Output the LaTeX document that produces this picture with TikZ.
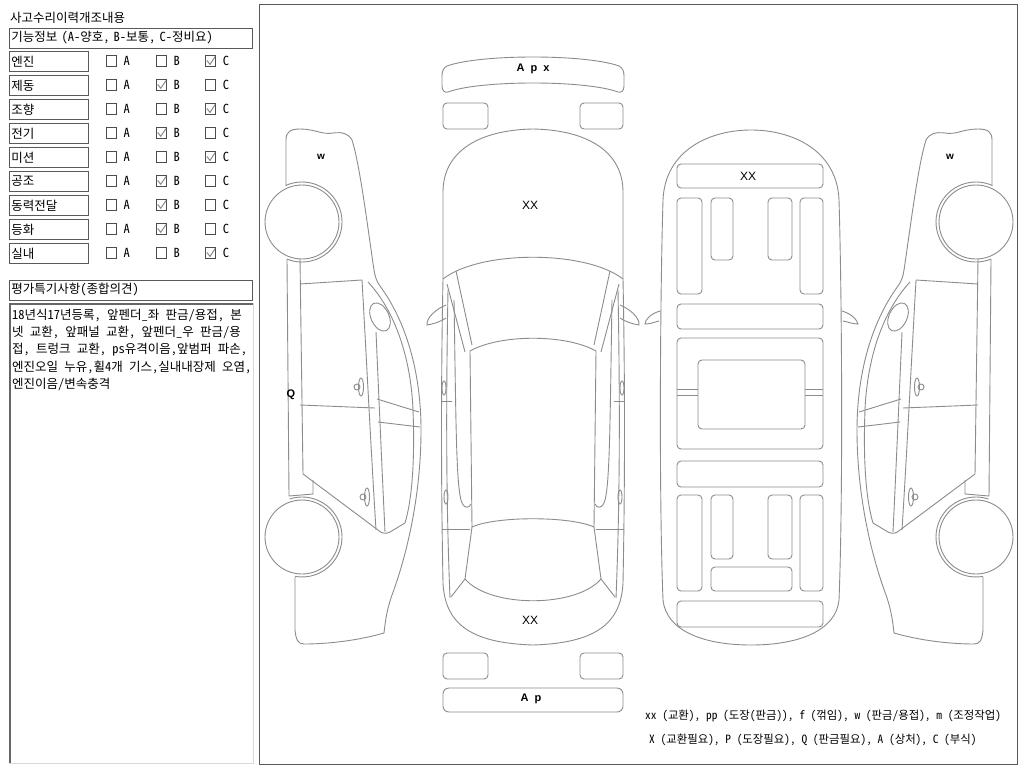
\documentclass[tikz,border=0pt]{standalone}
\usepackage{fontspec}
\setmainfont{Noto Sans CJK KR}[RawFeature=+hwid]
\newfontfamily\lblfont{Liberation Sans}
\usepackage{tikz}

% side view of the car (left side), mirrored for the right side
\newcommand{\sideview}{%
  \draw[car] (286,186) -- (286,140) .. controls (286,132) and (290,129) .. (300,129) .. controls (315,129) and (322,135) .. (333,133) .. controls (342,132) and (348,133) .. (352,140) .. controls (360,165) and (368,230) .. (374,270) .. controls (375,277) and (377,282) .. (380,286) .. controls (405,320) and (421,370) .. (421,430) .. controls (421,500) and (405,560) .. (392,595) .. controls (386,612) and (385,625) .. (384,633) .. controls (360,640) and (330,644) .. (304,644) .. controls (298,644) and (296,640) .. (295,630) -- (295,577);
  \draw[car] (302,222) circle[radius=37pt];
  \draw[car] (302,222) ++(114:40pt) arc[start angle=114, end angle=-112, radius=40pt];
  \draw[car] (302,537) circle[radius=37pt];
  \draw[car] (302,537) ++(108:40pt) arc[start angle=108, end angle=-100, radius=40pt];
  \draw[car] (287,259) -- (289,496) -- (313,494) -- (313,480);
  \draw[car] (300,259) -- (303,474) -- (378,530) .. controls (382,534) and (386,534) .. (390,532) -- (405,523);
  \draw[car] (300,284) -- (362,280);
  \draw[car] (300,405) -- (375,408);
  \draw[car] (362,280) .. controls (366,350) and (371,450) .. (376,530);
  \draw[car] (376,332) .. controls (379,400) and (382,470) .. (385,532);
  \draw[car] (368,282) .. controls (396,312) and (411,360) .. (413,410) .. controls (415,460) and (412,500) .. (405,523);
  \draw[car] (377,399) -- (419,412);
  \draw[car] (378,422) -- (420,427);
  \draw[car, rotate around={25:(380,317)}] (380,317) ellipse[x radius=9pt, y radius=15pt];
  \draw[car] (361,387) ellipse[x radius=2.5pt, y radius=9pt] (357,387) circle[radius=3pt];
  \draw[car] (367,497) ellipse[x radius=2.5pt, y radius=9pt] (363,497) circle[radius=3pt];
}

% one side of the top view, mirrored for the other side
\newcommand{\topside}{%
  \draw[car] (456,271) -- (472,345);
  \draw[car] (447,284) -- (465,352);
  \draw[car] (465,579) -- (451,597);
  \draw[car] (448,290) .. controls (446,400) and (446,500) .. (450,598);
  \draw[car] (454,300) .. controls (456,420) and (456,490) .. (462,503) .. controls (465,509) and (469,508) .. (471,504);
  \draw[car] (442,401) -- (452,401);
  \draw[car] (442,529) -- (470,529);
  \draw[car] (444,388) ellipse[x radius=2pt, y radius=7pt];
  \draw[car] (446,497) ellipse[x radius=2pt, y radius=7pt];
  \draw[car] (446,305) .. controls (436,309) and (426,318) .. (427,325) .. controls (434,324) and (442,321) .. (446,318);
}

\begin{document}
\begin{tikzpicture}[x=1pt, y=-1pt, font=\fontsize{12.5}{14}\selectfont, label distance=6.5pt,
  car/.style={draw=black!45, line width=0.9pt},
  part/.style={car, rounded corners=4pt},
  frame/.style={draw=black!65, line width=0.8pt},
  rowbox/.style={frame, anchor=west, minimum width=79pt, minimum height=20pt, text width=75pt, inner xsep=2pt, inner ysep=0pt, align=left},
  widebox/.style={frame, anchor=west, minimum width=243pt, minimum height=20pt, text width=239pt, inner xsep=2pt, inner ysep=0pt, align=left},
  chk/.style={draw=black!70, line width=0.7pt, minimum width=10.5pt, minimum height=11pt, inner sep=0pt},
  lbl/.style={inner sep=0pt},
  tick/.style={draw=black!50, line width=0.9pt},
  dmg/.style={font=\lblfont\bfseries\fontsize{11}{12}\selectfont, inner sep=0pt},
  legend/.style={anchor=west, inner sep=0pt, font=\fontsize{11.4}{13}\selectfont}]
  \useasboundingbox (0,0) rectangle (1024,768);
  \fill[white] (0,0) rectangle (1024,768);

  % left panel
  \node[anchor=west, inner sep=0pt] (title) at (10,18) {사고수리이력개조내용};
  \node[widebox] (func) at (9,38) {기능정보 (A-양호, B-보통, C-정비요)};

  \node[rowbox] (r1) at (9,61.5) {엔진};
  \node[chk, label={[lbl]right:A}] (r1a) at (111.3,60.5) {};
  \node[chk, label={[lbl]right:B}] (r1b) at (161.3,60.5) {};
  \node[chk, label={[lbl]right:C}] (r1c) at (210.5,60.5) {};
  \draw[tick] ([xshift=2pt]r1c.west) -- ([xshift=-0.5pt,yshift=2pt]r1c.south) -- ([xshift=-1pt,yshift=-2pt]r1c.north east);

  \node[rowbox] (r2) at (9,85.5) {제동};
  \node[chk, label={[lbl]right:A}] (r2a) at (111.3,84.5) {};
  \node[chk, label={[lbl]right:B}] (r2b) at (161.3,84.5) {};
  \node[chk, label={[lbl]right:C}] (r2c) at (210.5,84.5) {};
  \draw[tick] ([xshift=2pt]r2b.west) -- ([xshift=-0.5pt,yshift=2pt]r2b.south) -- ([xshift=-1pt,yshift=-2pt]r2b.north east);

  \node[rowbox] (r3) at (9,109.5) {조향};
  \node[chk, label={[lbl]right:A}] (r3a) at (111.3,108.5) {};
  \node[chk, label={[lbl]right:B}] (r3b) at (161.3,108.5) {};
  \node[chk, label={[lbl]right:C}] (r3c) at (210.5,108.5) {};
  \draw[tick] ([xshift=2pt]r3c.west) -- ([xshift=-0.5pt,yshift=2pt]r3c.south) -- ([xshift=-1pt,yshift=-2pt]r3c.north east);

  \node[rowbox] (r4) at (9,133.5) {전기};
  \node[chk, label={[lbl]right:A}] (r4a) at (111.3,132.5) {};
  \node[chk, label={[lbl]right:B}] (r4b) at (161.3,132.5) {};
  \node[chk, label={[lbl]right:C}] (r4c) at (210.5,132.5) {};
  \draw[tick] ([xshift=2pt]r4b.west) -- ([xshift=-0.5pt,yshift=2pt]r4b.south) -- ([xshift=-1pt,yshift=-2pt]r4b.north east);

  \node[rowbox] (r5) at (9,157.5) {미션};
  \node[chk, label={[lbl]right:A}] (r5a) at (111.3,156.5) {};
  \node[chk, label={[lbl]right:B}] (r5b) at (161.3,156.5) {};
  \node[chk, label={[lbl]right:C}] (r5c) at (210.5,156.5) {};
  \draw[tick] ([xshift=2pt]r5c.west) -- ([xshift=-0.5pt,yshift=2pt]r5c.south) -- ([xshift=-1pt,yshift=-2pt]r5c.north east);

  \node[rowbox] (r6) at (9,181.5) {공조};
  \node[chk, label={[lbl]right:A}] (r6a) at (111.3,180.5) {};
  \node[chk, label={[lbl]right:B}] (r6b) at (161.3,180.5) {};
  \node[chk, label={[lbl]right:C}] (r6c) at (210.5,180.5) {};
  \draw[tick] ([xshift=2pt]r6b.west) -- ([xshift=-0.5pt,yshift=2pt]r6b.south) -- ([xshift=-1pt,yshift=-2pt]r6b.north east);

  \node[rowbox] (r7) at (9,205.5) {동력전달};
  \node[chk, label={[lbl]right:A}] (r7a) at (111.3,204.5) {};
  \node[chk, label={[lbl]right:B}] (r7b) at (161.3,204.5) {};
  \node[chk, label={[lbl]right:C}] (r7c) at (210.5,204.5) {};
  \draw[tick] ([xshift=2pt]r7b.west) -- ([xshift=-0.5pt,yshift=2pt]r7b.south) -- ([xshift=-1pt,yshift=-2pt]r7b.north east);

  \node[rowbox] (r8) at (9,229.5) {등화};
  \node[chk, label={[lbl]right:A}] (r8a) at (111.3,228.5) {};
  \node[chk, label={[lbl]right:B}] (r8b) at (161.3,228.5) {};
  \node[chk, label={[lbl]right:C}] (r8c) at (210.5,228.5) {};
  \draw[tick] ([xshift=2pt]r8b.west) -- ([xshift=-0.5pt,yshift=2pt]r8b.south) -- ([xshift=-1pt,yshift=-2pt]r8b.north east);

  \node[rowbox] (r9) at (9,253.5) {실내};
  \node[chk, label={[lbl]right:A}] (r9a) at (111.3,252.5) {};
  \node[chk, label={[lbl]right:B}] (r9b) at (161.3,252.5) {};
  \node[chk, label={[lbl]right:C}] (r9c) at (210.5,252.5) {};
  \draw[tick] ([xshift=2pt]r9c.west) -- ([xshift=-0.5pt,yshift=2pt]r9c.south) -- ([xshift=-1pt,yshift=-2pt]r9c.north east);

  \node[widebox] (opinion) at (9,290) {평가특기사항(종합의견)};
  \draw[draw=black!15, line width=0.8pt] (9,303) rectangle (253,763);
  \draw[draw=black!60, line width=1.6pt] (9.8,763) -- (9.8,303.8) -- (253,303.8);
  \node[anchor=north west, inner sep=0pt, align=left, font=\fontsize{12.5}{17.2}\selectfont] (notes) at (12,309) {18년식17년등록, 앞펜더\_좌 판금/용접,  본\\넷 교환,  앞패널 교환,  앞펜더\_우 판금/용\\접,  트렁크 교환, ps유격이음,앞범퍼 파손,\\엔진오일 누유,휠4개 기스,실내내장제 오염,\\엔진이음/변속충격};

  % right panel
  \draw[draw=black!65, line width=1pt] (259,5) rectangle (1017,764);

  % side views
  \sideview
  \begin{scope}[xshift=1278pt, xscale=-1]
    \sideview
  \end{scope}

  % top view
  \draw[part, rounded corners=0pt] (447,66) .. controls (480,54) and (586,54) .. (619,66) .. controls (623,68) and (624,72) .. (624,76) -- (624,86) .. controls (624,91) and (621,93) .. (618,92) .. controls (586,80) and (480,80) .. (448,92) .. controls (445,93) and (442,91) .. (442,86) -- (442,76) .. controls (442,72) and (443,68) .. (447,66) -- cycle;
  \draw[part] (443,103) rectangle (488,129);
  \draw[part] (580,103) rectangle (623,129);
  \draw[car] (443,279) -- (443,192) .. controls (443,152) and (478,130) .. (533,129) .. controls (588,130) and (623,152) .. (623,192) -- (623,279) .. controls (625,380) and (625,480) .. (623,583) .. controls (621,622) and (598,643) .. (533,645) .. controls (468,643) and (445,622) .. (443,583) .. controls (441,480) and (441,380) .. (443,279) -- cycle;
  \draw[car] (443,279) .. controls (480,250) and (586,250) .. (623,279);
  \draw[car] (470,351) .. controls (500,334) and (566,334) .. (596,351) -- (594,527) .. controls (570,516) and (496,516) .. (472,527) -- cycle;
  \draw[car] (472,527) -- (465,579) .. controls (490,608) and (576,608) .. (601,579) -- (594,527);
  \topside
  \begin{scope}[xshift=1066pt, xscale=-1]
    \topside
  \end{scope}
  \draw[part] (443,653) rectangle (488,679);
  \draw[part] (580,653) rectangle (623,679);
  \draw[part, rounded corners=6pt] (443,688) rectangle (623,712);

  % underbody view
  \draw[car] (663,200) .. controls (665,150) and (710,130) .. (751,130) .. controls (792,130) and (837,150) .. (839,200) .. controls (842,300) and (843,500) .. (839,600) .. controls (836,630) and (800,645) .. (751,645) .. controls (702,645) and (666,630) .. (663,600) .. controls (659,500) and (660,300) .. (663,200) -- cycle;
  \draw[car] (660,311) .. controls (650,314) and (645,320) .. (645,324) .. controls (650,324) and (655,322) .. (659,321);
  \draw[car] (842,311) .. controls (852,314) and (857,320) .. (858,324) .. controls (853,324) and (848,322) .. (843,321);
  \draw[part] (677,164) rectangle (823,188);
  \draw[part] (677,198) rectangle (702,294);
  \draw[part] (711,198) rectangle (733,260);
  \draw[part] (768,198) rectangle (792,260);
  \draw[part] (800,198) rectangle (823,294);
  \draw[part] (677,304) rectangle (823,329);
  \draw[part] (677,338) rectangle (823,449);
  \draw[car] (677,389) -- (698,389);
  \draw[car] (677,395) -- (698,395);
  \draw[car] (805,389) -- (823,389);
  \draw[car] (805,395) -- (823,395);
  \draw[part, fill=white] (698,360) rectangle (805,429);
  \draw[part] (677,461) rectangle (823,487);
  \draw[part] (677,495) rectangle (702,591);
  \draw[part] (711,495) rectangle (733,559);
  \draw[part] (768,495) rectangle (792,559);
  \draw[part] (800,495) rectangle (823,591);
  \draw[part] (711,567) rectangle (792,591);
  \draw[part] (677,601) rectangle (823,627);

  % damage marks
  \node[dmg] (apx) at (533,69) {A\ \ p\ \ x};
  \node[dmg, font=\lblfont\fontsize{12}{13}\selectfont] (hood) at (530,205) {XX};
  \node[dmg, font=\lblfont\fontsize{12}{13}\selectfont] (trunk) at (530,620) {XX};
  \node[dmg] (ap) at (531,699) {A\ \ p};
  \node[dmg, font=\lblfont\fontsize{12}{13}\selectfont] (front) at (748,176) {XX};
  \node[dmg, font=\lblfont\bfseries\fontsize{10}{11}\selectfont] (wl) at (321,157) {w};
  \node[dmg, font=\lblfont\bfseries\fontsize{10}{11}\selectfont] (wr) at (950,157) {w};
  \node[dmg] (ql) at (291,395) {Q};

  % legend
  \node[legend] (leg1) at (645,716) {xx (교환), pp (도장(판금)), f (꺾임), w (판금/용접), m (조정작업)};
  \node[legend] (leg2) at (649,740) {X (교환필요), P (도장필요), Q (판금필요), A (상처), C (부식)};
\end{tikzpicture}
\end{document}
